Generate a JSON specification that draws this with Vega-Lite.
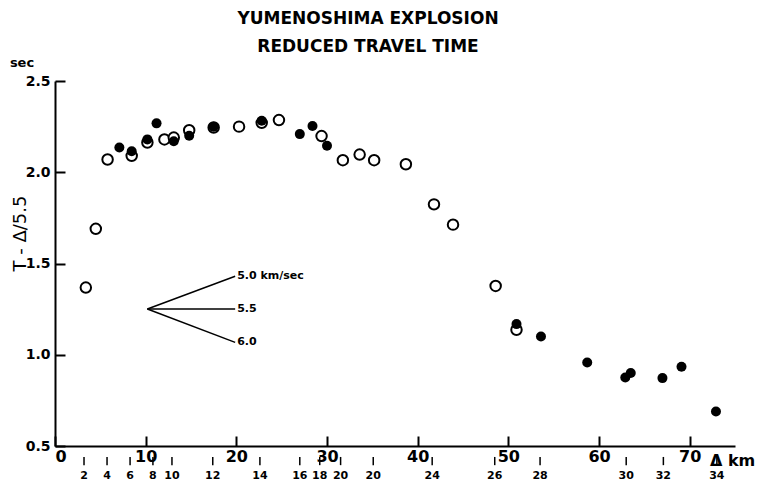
{
  "$schema": "https://vega.github.io/schema/vega-lite/v6.json",
  "autosize": "none",
  "width": 680,
  "height": 365,
  "padding": {"left": 55, "top": 81, "right": 23, "bottom": 39},
  "background": "white",
  "title": {
    "text": ["YUMENOSHIMA  EXPLOSION", "REDUCED  TRAVEL  TIME"],
    "font": "DejaVu Sans",
    "fontSize": 17,
    "fontWeight": "bold",
    "lineHeight": 28,
    "anchor": "middle",
    "dx": -27,
    "offset": -16,
    "baseline": "bottom",
    "color": "black"
  },
  "config": {
    "view": {"stroke": null},
    "axis": {"grid": false, "domainColor": "black", "tickColor": "black", "labelColor": "black", "titleColor": "black", "domainWidth": 2, "tickWidth": 2, "labelFont": "DejaVu Sans", "labelFontWeight": "bold", "titleFont": "DejaVu Sans"}
  },
  "datasets": {
    "pts": [
      {"d": 3.4, "t": 1.368, "k": "open"},
      {"d": 4.5, "t": 1.69, "k": "open"},
      {"d": 5.8, "t": 2.07, "k": "open"},
      {"d": 8.46, "t": 2.09, "k": "open"},
      {"d": 10.19, "t": 2.163, "k": "open"},
      {"d": 12.07, "t": 2.18, "k": "open"},
      {"d": 13.1, "t": 2.19, "k": "open"},
      {"d": 14.8, "t": 2.23, "k": "open"},
      {"d": 17.5, "t": 2.245, "k": "open"},
      {"d": 20.3, "t": 2.25, "k": "open"},
      {"d": 22.8, "t": 2.271, "k": "open"},
      {"d": 24.7, "t": 2.286, "k": "open"},
      {"d": 29.4, "t": 2.198, "k": "open"},
      {"d": 31.75, "t": 2.066, "k": "open"},
      {"d": 33.6, "t": 2.097, "k": "open"},
      {"d": 35.2, "t": 2.066, "k": "open"},
      {"d": 38.7, "t": 2.044, "k": "open"},
      {"d": 41.8, "t": 1.824, "k": "open"},
      {"d": 43.9, "t": 1.713, "k": "open"},
      {"d": 48.6, "t": 1.377, "k": "open"},
      {"d": 50.9, "t": 1.137, "k": "open"},
      {"d": 7.1, "t": 2.136, "k": "filled"},
      {"d": 8.46, "t": 2.115, "k": "filled"},
      {"d": 10.19, "t": 2.18, "k": "filled"},
      {"d": 11.2, "t": 2.268, "k": "filled"},
      {"d": 13.1, "t": 2.17, "k": "filled"},
      {"d": 14.8, "t": 2.2, "k": "filled"},
      {"d": 17.5, "t": 2.25, "k": "filled"},
      {"d": 22.8, "t": 2.282, "k": "filled"},
      {"d": 27.0, "t": 2.209, "k": "filled"},
      {"d": 28.4, "t": 2.253, "k": "filled"},
      {"d": 30.0, "t": 2.145, "k": "filled"},
      {"d": 50.9, "t": 1.168, "k": "filled"},
      {"d": 53.6, "t": 1.1, "k": "filled"},
      {"d": 58.7, "t": 0.958, "k": "filled"},
      {"d": 62.9, "t": 0.875, "k": "filled"},
      {"d": 63.5, "t": 0.9, "k": "filled"},
      {"d": 67.0, "t": 0.872, "k": "filled"},
      {"d": 69.1, "t": 0.934, "k": "filled"},
      {"d": 72.9, "t": 0.689, "k": "filled"}
    ],
    "stations": [
      {"d": 3.2, "s": "2"}, {"d": 5.74, "s": "4"}, {"d": 8.28, "s": "6"}, {"d": 10.8, "s": "8"},
      {"d": 12.9, "s": "10"}, {"d": 17.4, "s": "12"}, {"d": 22.6, "s": "14"}, {"d": 27.0, "s": "16"},
      {"d": 29.2, "s": "18"}, {"d": 31.5, "s": "20"}, {"d": 35.1, "s": "20"}, {"d": 41.6, "s": "24"},
      {"d": 48.5, "s": "26"}, {"d": 53.5, "s": "28"}, {"d": 63.0, "s": "30"}, {"d": 67.1, "s": "32"},
      {"d": 73.0, "s": "34"}
    ],
    "fan": [
      {"x0": 10.19, "y0": 1.251, "x1": 19.87, "y1": 1.43, "lab": "5.0 km/sec"},
      {"x0": 10.19, "y0": 1.251, "x1": 19.87, "y1": 1.251, "lab": "5.5"},
      {"x0": 10.19, "y0": 1.251, "x1": 19.87, "y1": 1.068, "lab": "6.0"}
    ]
  },
  "layer": [
    {
      "data": {"name": "pts"},
      "transform": [{"filter": "datum.k === 'open'"}],
      "mark": {"type": "point", "shape": "circle", "filled": false, "fill": "white", "stroke": "black", "strokeWidth": 2, "size": 110, "opacity": 1},
      "encoding": {
        "x": {"field": "d", "type": "quantitative", "scale": {"domain": [0, 75], "nice": false, "zero": false},
          "axis": {"title": null, "values": [0, 10, 20, 30, 40, 50, 60, 70], "tickSize": -10, "labelFontSize": 16, "labelPadding": 12, "labelFlush": false,
            "labelAlign": {"condition": {"test": "datum.value === 0", "value": "left"}, "value": "center"}}},
        "y": {"field": "t", "type": "quantitative", "scale": {"domain": [0.5, 2.5], "nice": false, "zero": false},
          "axis": {"title": "T - Δ/5.5", "titleFontSize": 18, "titleFontWeight": "normal", "titleX": -35, "titleY": 152, "titleAngle": -90, "titleAlign": "center", "titleBaseline": "middle",
            "values": [0.5, 1.0, 1.5, 2.0, 2.5], "format": ".1f", "tickSize": -10, "labelFontSize": 14, "labelPadding": 15, "labelFlush": false}}
      }
    },
    {
      "data": {"name": "pts"},
      "transform": [{"filter": "datum.k === 'filled'"}],
      "mark": {"type": "point", "shape": "circle", "filled": true, "color": "black", "size": 100, "opacity": 1},
      "encoding": {
        "x": {"field": "d", "type": "quantitative"},
        "y": {"field": "t", "type": "quantitative"}
      }
    },
    {
      "data": {"name": "fan"},
      "mark": {"type": "rule", "color": "black", "strokeWidth": 1.5},
      "encoding": {
        "x": {"field": "x0", "type": "quantitative"},
        "y": {"field": "y0", "type": "quantitative"},
        "x2": {"field": "x1"},
        "y2": {"field": "y1"}
      }
    },
    {
      "data": {"name": "fan"},
      "mark": {"type": "text", "align": "left", "baseline": "middle", "dx": 2, "font": "DejaVu Sans", "fontWeight": "bold", "fontSize": 11, "color": "black"},
      "encoding": {
        "x": {"field": "x1", "type": "quantitative"},
        "y": {"field": "y1", "type": "quantitative"},
        "text": {"field": "lab"}
      }
    },
    {
      "data": {"name": "stations"},
      "mark": {"type": "rule", "color": "black", "strokeWidth": 1.5},
      "encoding": {
        "x": {"field": "d", "type": "quantitative"},
        "y": {"datum": 0.44},
        "y2": {"datum": 0.395}
      }
    },
    {
      "data": {"name": "stations"},
      "mark": {"type": "text", "align": "center", "baseline": "middle", "dy": 30, "font": "DejaVu Sans", "fontWeight": "bold", "fontSize": 11, "color": "black"},
      "encoding": {
        "x": {"field": "d", "type": "quantitative"},
        "y": {"datum": 0.5},
        "text": {"field": "s"}
      }
    },
    {
      "data": {"values": [{"lab": "Δ km"}]},
      "mark": {"type": "text", "align": "left", "baseline": "middle", "dx": -25, "dy": 15, "font": "DejaVu Sans", "fontWeight": "bold", "fontSize": 16, "color": "black"},
      "encoding": {
        "x": {"datum": 75},
        "y": {"datum": 0.5},
        "text": {"field": "lab"}
      }
    },
    {
      "data": {"values": [{"lab": "sec"}]},
      "mark": {"type": "text", "align": "center", "baseline": "middle", "dx": -33, "dy": -18, "font": "DejaVu Sans", "fontWeight": "bold", "fontSize": 13, "color": "black"},
      "encoding": {
        "x": {"datum": 0},
        "y": {"datum": 2.5},
        "text": {"field": "lab"}
      }
    }
  ]
}
